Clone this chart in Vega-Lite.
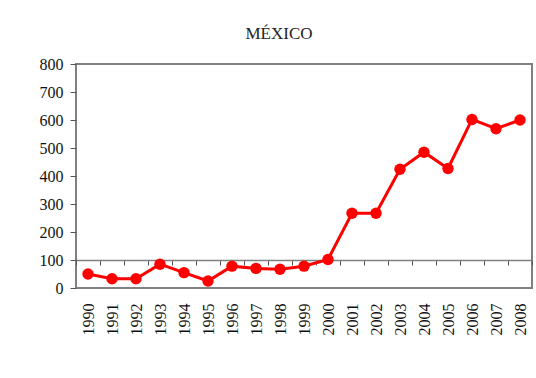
{
  "$schema": "https://vega.github.io/schema/vega-lite/v6.json",
  "autosize": "none",
  "padding": {"left": 76, "top": 64, "right": 4, "bottom": 90},
  "width": 456,
  "height": 224,
  "background": "white",
  "title": {
    "text": "MÉXICO",
    "font": "Liberation Serif",
    "fontSize": 17,
    "fontWeight": "normal",
    "color": "#222222",
    "dx": -25,
    "offset": 13
  },
  "data": {
    "values": [
      {"year": "1990", "value": 50},
      {"year": "1991", "value": 33},
      {"year": "1992", "value": 33},
      {"year": "1993", "value": 85},
      {"year": "1994", "value": 55},
      {"year": "1995", "value": 25},
      {"year": "1996", "value": 78},
      {"year": "1997", "value": 70},
      {"year": "1998", "value": 67},
      {"year": "1999", "value": 78},
      {"year": "2000", "value": 102},
      {"year": "2001", "value": 267},
      {"year": "2002", "value": 267},
      {"year": "2003", "value": 424},
      {"year": "2004", "value": 485},
      {"year": "2005", "value": 427},
      {"year": "2006", "value": 602},
      {"year": "2007", "value": 569},
      {"year": "2008", "value": 600}
    ]
  },
  "encoding": {
    "x": {
      "field": "year",
      "type": "ordinal",
      "scale": {"type": "band", "paddingInner": 0, "paddingOuter": 0},
      "axis": {
        "title": null,
        "offset": -28,
        "tickBand": "extent",
        "domainColor": "#808080",
        "domainWidth": 1.5,
        "tickColor": "#555555",
        "tickSize": 5,
        "tickWidth": 1,
        "labelAngle": -90,
        "labelAlign": "right",
        "labelBaseline": "middle",
        "labelPadding": 38,
        "labelFont": "Liberation Serif",
        "labelFontSize": 16,
        "labelColor": "#111111"
      }
    },
    "y": {
      "field": "value",
      "type": "quantitative",
      "scale": {"domain": [0, 800], "nice": false},
      "axis": {
        "title": null,
        "values": [0, 100, 200, 300, 400, 500, 600, 700, 800],
        "grid": false,
        "domain": false,
        "tickColor": "#555555",
        "tickSize": 6,
        "labelPadding": 7,
        "labelFont": "Liberation Serif",
        "labelFontSize": 16,
        "labelColor": "#111111"
      }
    }
  },
  "layer": [
    {"mark": {"type": "line", "color": "#FF0000", "strokeWidth": 3}},
    {"mark": {"type": "point", "filled": true, "color": "#FF0000", "opacity": 1, "size": 130}}
  ],
  "config": {
    "view": {"stroke": "#808080", "strokeWidth": 2},
    "font": "Liberation Serif"
  }
}
